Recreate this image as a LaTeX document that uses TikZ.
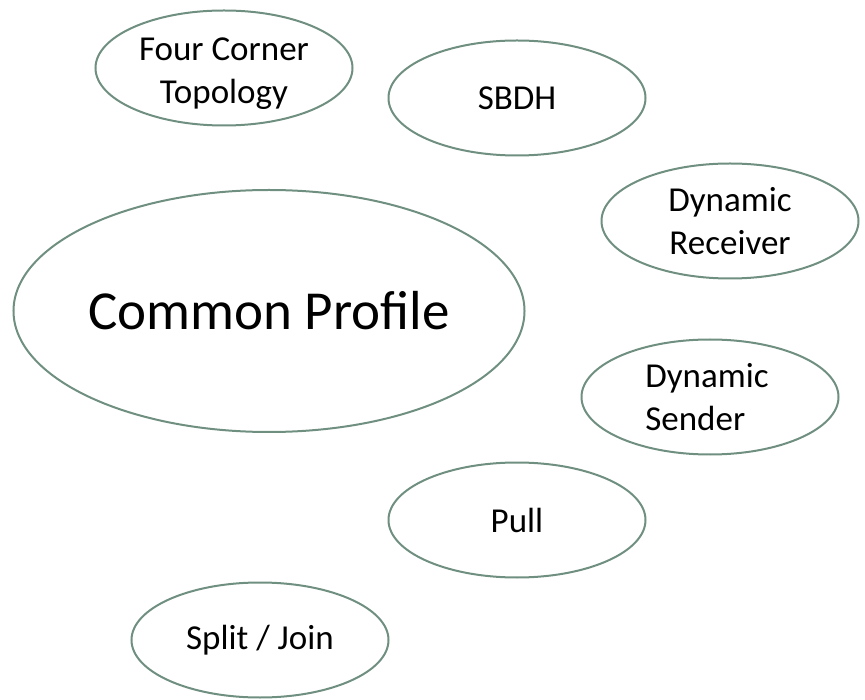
\documentclass[tikz,border=0pt]{standalone}
\usepackage{fontspec}
\setmainfont{Carlito}
\usetikzlibrary{shapes.geometric}
\definecolor{edgegreen}{HTML}{6F8F80}
\tikzset{
  bubble/.style={ellipse, draw=edgegreen, line width=2pt, inner sep=0pt,
    minimum width=257pt, minimum height=115pt, align=center,
    font=\fontsize{35}{43}\selectfont},
  bigbubble/.style={bubble, minimum width=510pt, minimum height=242pt,
    font=\fontsize{55}{66}\selectfont},
  bubbletext/.style={align=center, inner sep=0pt, font=\fontsize{35}{43}\selectfont}
}
\begin{document}
\begin{tikzpicture}[x=1pt,y=-1pt]
\useasboundingbox (0,0) rectangle (865,700);
\node[bubble, label={[bubbletext, name=fcttext, yshift=-6pt]center:Four Corner\\Topology}] (fct) at (224,68) {};
\node[bubble] (sbdh) at (517,98) {SBDH};
\node[bubble] (dr) at (730,221) {Dynamic\\Receiver};
\node[bigbubble] (cp) at (269,311) {Common Profile};
\node[bubble, label={[bubbletext, align=left, name=dstext, xshift=-3pt]center:Dynamic\\Sender}] (ds) at (710,397) {};
\node[bubble] (pull) at (517,520) {Pull};
\node[bubble] (sj) at (260,640) {Split / Join};
\end{tikzpicture}
\end{document}
